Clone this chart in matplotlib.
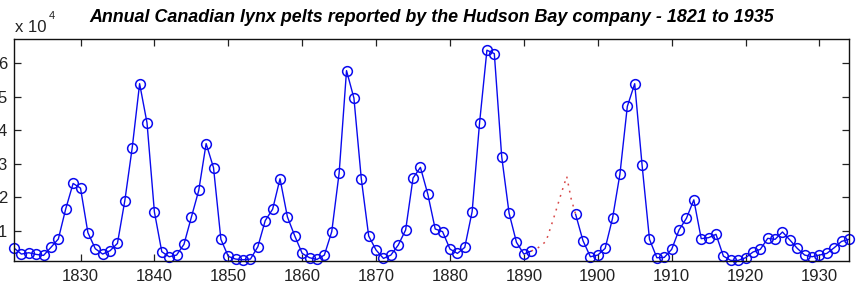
import numpy as np
import matplotlib
matplotlib.use('Agg')
import matplotlib.pyplot as plt

plt.rcParams['font.family'] = ['Liberation Sans', 'DejaVu Sans']

# lynx pelts per year (1892-1896 missing)
years = np.arange(1821, 1935)
pelts = [
    4800, 3000, 3400, 2900, 2600, 5000, 7500, 16500, 24100, 22700,   # 1821-1830
    9400, 4600, 3000, 4000, 6200, 19000, 34800, 53900, 42200, 15600, # 1831-1840
    3700, 2200, 2700, 5900, 14000, 22000, 36000, 28800, 7400, 2300,  # 1841-1850
    1500, 1300, 1500, 5200, 13000, 16400, 25500, 14100, 8400, 3200,  # 1851-1860
    1900, 1400, 2700, 9700, 27200, 57800, 49600, 25500, 8400, 4200,  # 1861-1870
    1700, 2700, 5700, 10200, 25700, 28900, 20900, 10500, 9700, 4500, # 1871-1880
    3200, 5000, 15700, 42100, 63900, 62900, 32100, 15200, 6500, 3000, # 1881-1890
    3900, np.nan, np.nan, np.nan, np.nan, np.nan, 14900, 7000, 2200, 2700, # 1891-1900
    4700, 13700, 26900, 47100, 53900, 29500, 7400, 1900, 2000, 4400, # 1901-1910
    10200, 13700, 19200, 7600, 7900, 8900, 2400, 1100, 1100, 1900,   # 1911-1920
    3600, 4400, 7700, 7400, 9600, 7200, 4700, 2700, 2200, 2700,      # 1921-1930
    3200, 4900, 6800, 7400,                                          # 1931-1934
]

# red dotted estimate across the gap
gap_years = [1891, 1892, 1893, 1894, 1895, 1895.8, 1896.4, 1897]
gap_pelts = [3900, 5000, 6800, 13500, 20700, 26200, 19500, 14900]

title = 'Annual Canadian lynx pelts reported by the Hudson Bay company - 1821 to 1935'

fig = plt.figure(figsize=(8.64, 2.84), dpi=100)
ax = fig.add_axes([14/864, 1 - 261/284, (849 - 14)/864, (261 - 38.5)/284])

blue = '#0a0aee'
ax.plot(years, pelts, '-', color=blue, lw=1)
ax.plot(years, pelts, 'o', mfc='none', mec=blue, ms=7, mew=1.1, clip_on=False)
ax.plot(gap_years, gap_pelts, color='#d84848', ls=(0, (1.2, 3.5)), lw=1.1)

ax.set_xlim(1821, 1934)
ax.set_ylim(930, 67400)
ax.set_xticks(np.arange(1830, 1931, 10))
ax.set_yticks(np.arange(10000, 60001, 10000))
ax.set_yticklabels([str(i) for i in range(1, 7)])
ax.tick_params(direction='in', length=5, width=0.9, top=True, right=True,
               labelsize=12, colors='#222222', pad=5)
ax.tick_params(axis='x', pad=6)
for s in ax.spines.values():
    s.set_linewidth(1)
    s.set_color('#111111')

fig.text(15/864, 1 - 32/284, 'x 10', fontsize=12, color='#222222')
fig.text(49/864, 1 - 19/284, '4', fontsize=8, color='#222222')
fig.text(0.5, 1 - 17/284, title, ha='center', va='center',
         fontweight='bold', style='italic', fontsize=12.9)

fig.savefig('out.png', dpi=100, facecolor='white')
